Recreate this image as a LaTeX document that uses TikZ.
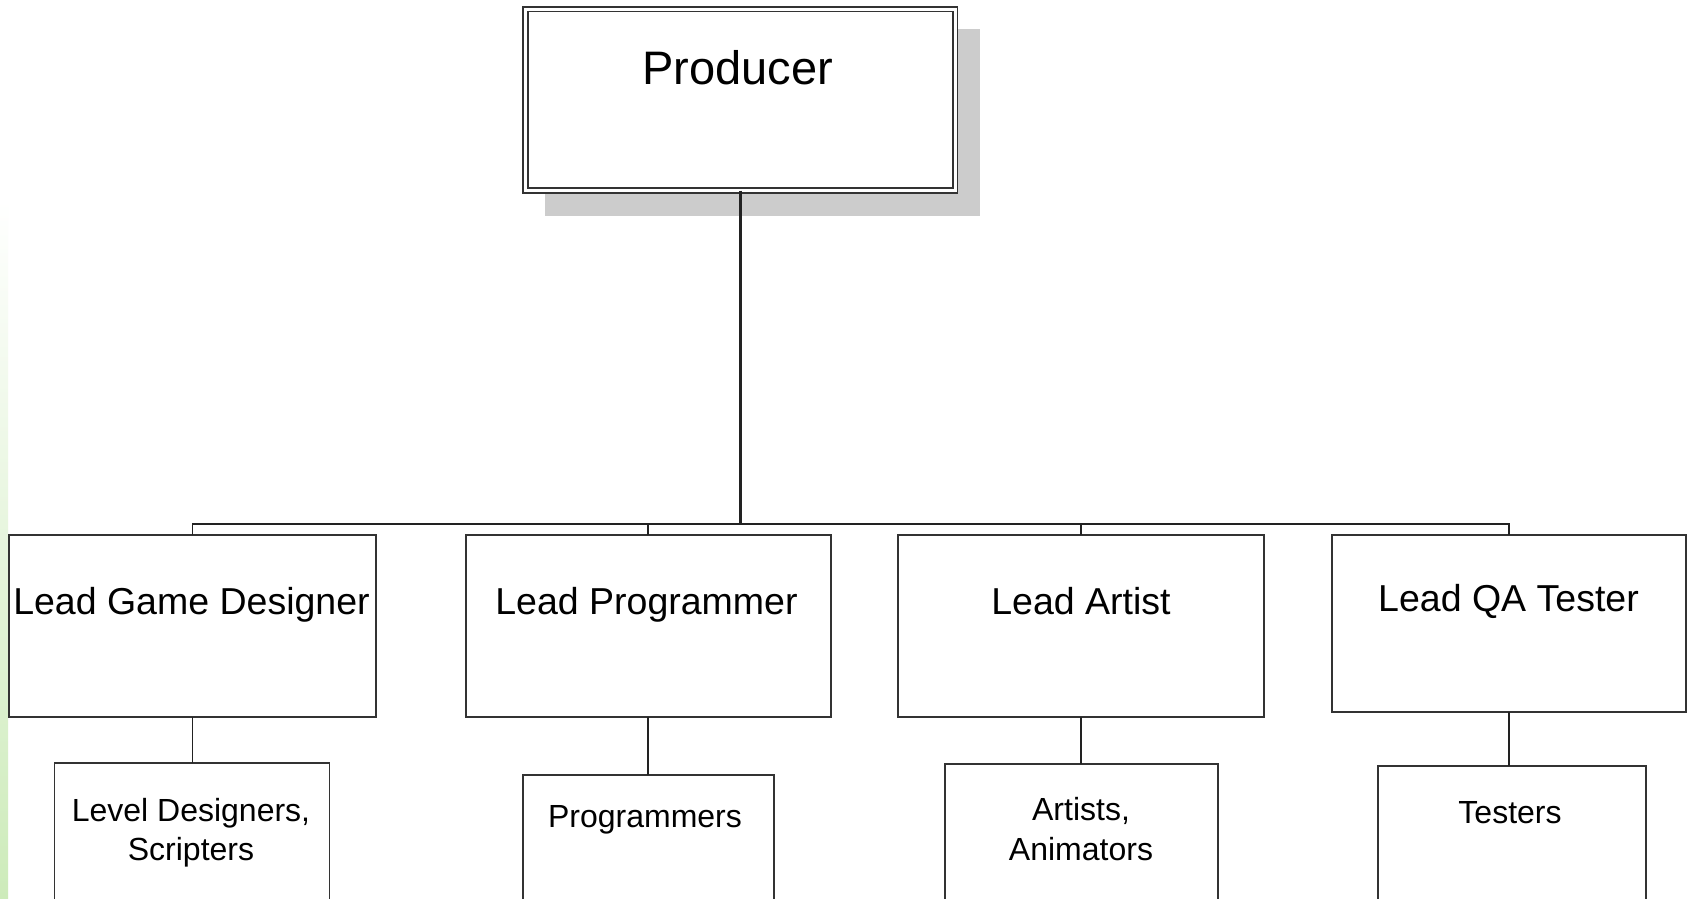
\documentclass[tikz,border=0pt]{standalone}
\usepackage{fontspec}
\setmainfont{Liberation Sans}
\definecolor{boxline}{HTML}{333333}
\definecolor{linecol}{HTML}{222222}
\definecolor{shadowgray}{HTML}{CCCCCC}
\definecolor{stripgreen}{HTML}{CDEBBA}
\tikzset{
  leadbox/.style={draw=boxline, line width=1.8pt, fill=white, rectangle, inner sep=0pt, outer sep=0pt},
  subbox/.style={draw=boxline, line width=1.8pt, fill=white, rectangle, inner sep=0pt, outer sep=0pt},
  prodbox/.style={draw=boxline, line width=1.6pt, double=white, double distance=3pt, fill=white, rectangle, inner sep=0pt, outer sep=0pt},
  conn/.style={draw=linecol, line width=1.8pt},
  mainconn/.style={draw=linecol, line width=3pt},
  prodtext/.style={anchor=base, inner sep=0pt, font=\fontsize{47}{56}\selectfont},
  leadtext/.style={anchor=base, inner sep=0pt, font=\fontsize{37.5}{44}\selectfont},
  subtext/.style={anchor=base, inner sep=0pt, font=\fontsize{32}{39}\selectfont},
}
\begin{document}
\begin{tikzpicture}[x=1pt, y=-1pt]
\useasboundingbox (0,0) rectangle (1687,898);
\clip (0,0) rectangle (1687,898);
\fill[white] (0,0) rectangle (1687,898);
% green strip at left edge
\shade[top color=white, bottom color=stripgreen] (0,200) rectangle (8,898);

% producer shadow and box
\fill[shadowgray] (545,29) rectangle (980,216);
\node[prodbox, minimum width=429.5pt, minimum height=181.5pt] (prod) at (740.25,99.75) {};
\node[prodtext] (prodT) at (737.5,84) {Producer};

% lead boxes
\node[leadbox, minimum width=367pt, minimum height=182pt] (lgd) at (192.5,626) {};
\node[leadbox, minimum width=365pt, minimum height=182pt] (lp) at (648.25,626) {};
\node[leadbox, minimum width=366pt, minimum height=182pt] (la) at (1081.3,626) {};
\node[leadbox, minimum width=354pt, minimum height=177pt] (lqa) at (1509,623.5) {};

\node[leadtext] (lgdT) at (191.5,614) {Lead Game Designer};
\node[leadtext] (lpT) at (646.5,614) {Lead Programmer};
\node[leadtext] (laT) at (1081,614) {Lead Artist};
\node[leadtext] (lqaT) at (1508.5,611) {Lead QA Tester};

% sub boxes (cut off at bottom)
\node[subbox, minimum width=275pt, minimum height=187pt] (lds) at (192,856.5) {};
\node[subbox, minimum width=251pt, minimum height=175pt] (prg) at (648.25,862.5) {};
\node[subbox, minimum width=273pt, minimum height=187pt] (art) at (1081.25,857.5) {};
\node[subbox, minimum width=268pt, minimum height=184pt] (tst) at (1512,858) {};

\node[subtext] (ldsT1) at (191,821) {Level Designers,};
\node[subtext] (ldsT2) at (191,860) {Scripters};
\node[subtext] (prgT) at (645,827) {Programmers};
\node[subtext] (artT1) at (1081,820) {Artists,};
\node[subtext] (artT2) at (1081,860) {Animators};
\node[subtext] (tstT) at (1510,823) {Testers};

% connectors
\coordinate (bus) at (739,524);
\draw[mainconn] (prod.south) -- (prod.south |- bus);
\draw[conn] (lgd.north) -- (lgd.north |- bus) -- (lqa.north |- bus) -- (lqa.north);
\draw[conn] (lp.north) -- (lp.north |- bus);
\draw[conn] (la.north) -- (la.north |- bus);

\draw[conn] (lgd.south) -- (lgd.south |- lds.north);
\draw[conn] (lp.south) -- (lp.south |- prg.north);
\draw[conn] (la.south) -- (la.south |- art.north);
\draw[conn] (lqa.south) -- (lqa.south |- tst.north);
\end{tikzpicture}
\end{document}
